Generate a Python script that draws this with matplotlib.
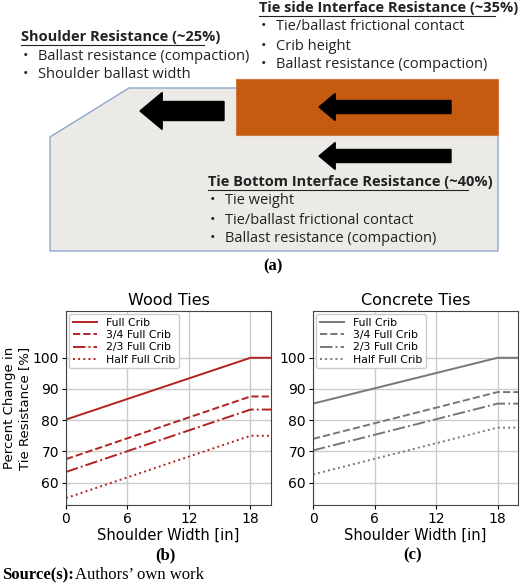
import matplotlib.pyplot as plt
from matplotlib.patches import Polygon, Rectangle, FancyArrow

shoulder = [0, 18, 20]
crib_labels = ['Full Crib', '3/4 Full Crib', '2/3 Full Crib', 'Half Full Crib']
wood = [[80.2, 100, 100], [67.5, 87.6, 87.6], [63.4, 83.4, 83.4], [55.0, 75.0, 75.0]]
concrete = [[85.3, 100, 100], [74.0, 89.0, 89.0], [70.3, 85.3, 85.3], [62.6, 77.6, 77.6]]
styles = ['-', '--', '-.', ':']

W, H = 520, 586
fig = plt.figure(figsize=(W / 100, H / 100), dpi=100)

# diagram overlay in pixel coords
d = fig.add_axes([0, 0, 1, 1])
d.set_xlim(0, W)
d.set_ylim(H, 0)
d.axis('off')

d.add_patch(Polygon([(50, 137), (129, 88), (498, 88), (498, 251), (50, 251)],
                    closed=True, facecolor='#eceae6', edgecolor='#8ea6cc', lw=1))
d.add_patch(Rectangle((236, 79), 262, 56, facecolor='#c55a11', edgecolor='#d07a40', lw=0.8))
for x0, x1, y, w, hw in [(224, 140, 111, 19, 37), (451, 319, 107, 13, 27), (451, 319, 156, 13, 27)]:
    d.add_patch(FancyArrow(x0, y, x1 - x0, 0, width=w, head_width=hw, head_length=hw * 0.6,
                           length_includes_head=True, color='black'))

ff = 'Open Sans'
fs = 10.5
def block(x, y, title, items, tw):
    d.text(x, y, title, fontsize=fs, fontweight='bold', family=ff, va='center', color='#222')
    d.plot([x, x + tw], [y + 8, y + 8], color='#222', lw=0.8)
    for i, it in enumerate(items):
        yy = y + 19 * (i + 1)
        d.text(x + 2, yy, '•', fontsize=fs, family=ff, va='center', color='#222')
        d.text(x + 17, yy, it, fontsize=fs, family=ff, va='center', color='#222')

block(21, 37, 'Shoulder Resistance (~25%)', ['Ballast resistance (compaction)', 'Shoulder ballast width'], 183)
block(259, 8, 'Tie side Interface Resistance (~35%)', ['Tie/ballast frictional contact', 'Crib height',
                                                         'Ballast resistance (compaction)'], 236)
block(208, 182, 'Tie Bottom Interface Resistance (~40%)', ['Tie weight', 'Tie/ballast frictional contact',
                                                            'Ballast resistance (compaction)'], 260)

serif = 'Liberation Serif'
d.text(273, 266, '(a)', fontsize=12, fontweight='bold', family=serif, ha='center', va='center')
d.text(165, 555, '(b)', fontsize=12, fontweight='bold', family=serif, ha='center', va='center')
d.text(413, 555, '(c)', fontsize=12, fontweight='bold', family=serif, ha='center', va='center')
d.text(2, 575, 'Source(s):', fontsize=12, fontweight='bold', family=serif, va='center')
d.text(75, 575, 'Authors\u2019 own work', fontsize=12, family=serif, va='center')

def panel(left, data, color, title, ylabel):
    ax = fig.add_axes([left / W, 1 - 505 / H, 205 / W, 194 / H])
    for vals, lab, ls in zip(data, crib_labels, styles):
        ax.plot(shoulder, vals, ls, color=color, lw=1.4, label=lab)
    ax.set_xlim(0, 20)
    ax.set_ylim(52.8, 115)
    ax.set_xticks([0, 6, 12, 18])
    ax.set_yticks([60, 70, 80, 90, 100])
    ax.grid(True, color='#cccccc', lw=1)
    ax.set_title(title, fontsize=11.5, pad=4)
    ax.set_xlabel('Shoulder Width [in]', fontsize=10.5, labelpad=1)
    if ylabel:
        ax.set_ylabel('Percent Change in\nTie Resistance [%]', fontsize=9.5, labelpad=1)
    ax.tick_params(labelsize=10, length=3, pad=2)
    for s in ax.spines.values():
        s.set_color('#444')
    ax.legend(loc='upper left', fontsize=7.8, handlelength=2.2, labelspacing=0.2,
              borderpad=0.35, borderaxespad=0.3, framealpha=1)
    return ax

panel(66, wood, '#b22222', 'Wood Ties', True)
panel(313, concrete, '#777777', 'Concrete Ties', False)

plt.savefig('out.png', dpi=100)
